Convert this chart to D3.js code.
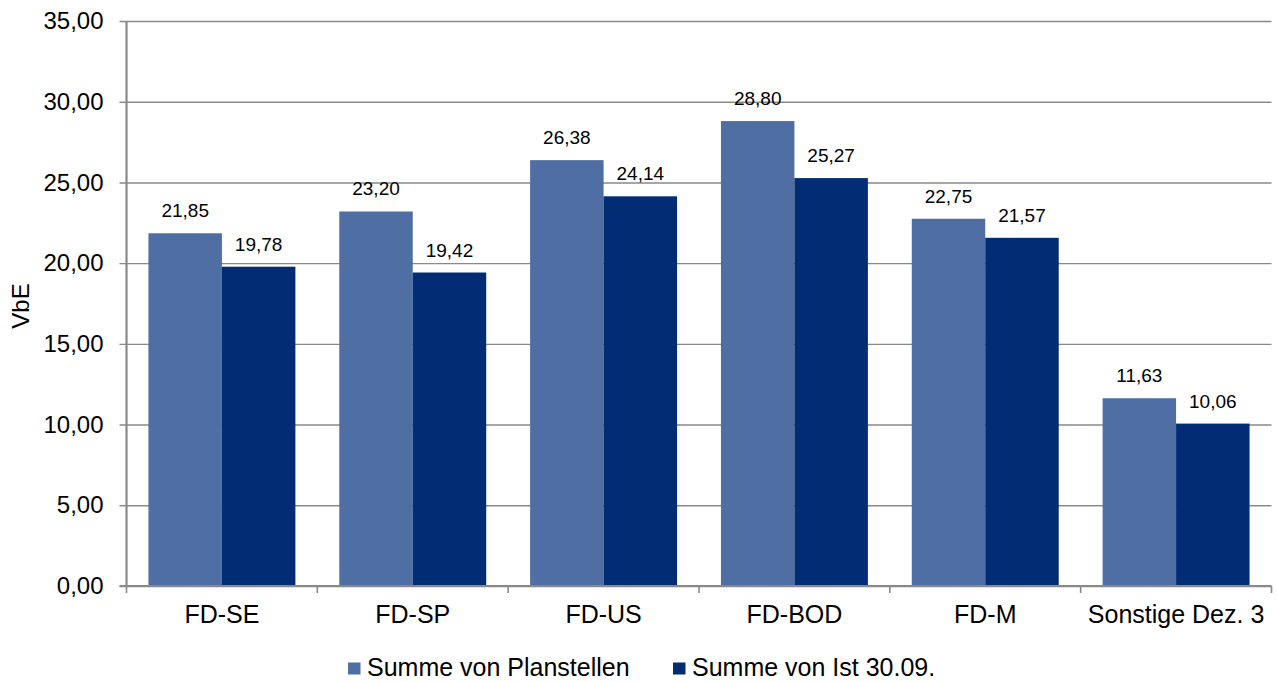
<!DOCTYPE html>
<html>
<head>
<meta charset="utf-8">
<script src="https://cdn.jsdelivr.net/npm/d3@7"></script>
<style>
  html, body { margin: 0; padding: 0; background: #fff; }
  svg { display: block; font-family: "Liberation Sans", Arial, sans-serif; }
</style>
</head>
<body>
<svg id="chart" width="1278" height="682"></svg>
<script>
// Categories and series values
const categories = ["FD-SE", "FD-SP", "FD-US", "FD-BOD", "FD-M", "Sonstige Dez. 3"];
const planstellen = [21.85, 23.20, 26.38, 28.80, 22.75, 11.63];
const ist3009 = [19.78, 19.42, 24.14, 25.27, 21.57, 10.06];
const seriesNames = ["Summe von Planstellen", "Summe von Ist 30.09."];
const seriesColors = ["#4F6EA4", "#022C74"];
const yTicks = [0, 5, 10, 15, 20, 25, 30, 35];
const yTitle = "VbE";

const svg = d3.select("#chart");
const margin = { left: 126.5, right: 6.5, top: 21, bottom: 96 };
const width = 1278, height = 682;
const plotW = width - margin.left - margin.right;
const plotH = height - margin.top - margin.bottom;

const fmt = v => d3.format(".2f")(v).replace(".", ",");

const x0 = d3.scaleBand().domain(categories).range([0, plotW])
  .paddingInner(0.23).paddingOuter(0.115);
const x1 = d3.scaleBand().domain(seriesNames).range([0, x0.bandwidth()]);
const y = d3.scaleLinear().domain([0, 35]).range([plotH, 0]);

const g = svg.append("g").attr("transform", `translate(${margin.left},${margin.top})`);

// Horizontal gridlines with left tick marks
const yAxis = g.append("g")
  .call(d3.axisLeft(y).tickValues(yTicks).tickFormat(fmt).tickSize(-plotW).tickPadding(23));
yAxis.select(".domain").remove();
yAxis.selectAll(".tick line")
  .attr("x1", -7).attr("stroke", "#898989").attr("stroke-width", 1.4);
yAxis.selectAll(".tick text")
  .attr("font-size", 24).attr("fill", "#000")
  .style("font-family", "'Liberation Sans', Arial, sans-serif");

// Bars
const rows = categories.map((c, i) => ({ cat: c, vals: [planstellen[i], ist3009[i]] }));
const groups = g.selectAll(".grp").data(rows).enter().append("g")
  .attr("transform", d => `translate(${x0(d.cat)},0)`);

groups.selectAll("rect").data(d => d.vals.map((v, k) => ({ v, s: seriesNames[k], k })))
  .enter().append("rect")
  .attr("x", d => x1(d.s))
  .attr("y", d => y(d.v))
  .attr("width", x1.bandwidth())
  .attr("height", d => y(0) - y(d.v))
  .attr("fill", d => seriesColors[d.k]);

groups.selectAll("text.val").data(d => d.vals.map((v, k) => ({ v, s: seriesNames[k] })))
  .enter().append("text")
  .attr("class", "val")
  .attr("x", d => x1(d.s) + x1.bandwidth() / 2)
  .attr("y", d => y(d.v) - 16)
  .attr("text-anchor", "middle")
  .attr("font-size", 19)
  .attr("fill", "#000")
  .text(d => fmt(d.v));

// Vertical axis line
g.append("line")
  .attr("x1", 0).attr("x2", 0).attr("y1", 0).attr("y2", plotH)
  .attr("stroke", "#898989").attr("stroke-width", 2.2);

// Category axis with ticks at group boundaries
const bounds = d3.range(categories.length + 1).map(i => i * x0.step());
g.append("line")
  .attr("x1", -7).attr("x2", plotW).attr("y1", plotH).attr("y2", plotH)
  .attr("stroke", "#898989").attr("stroke-width", 2.2);
g.selectAll(".bt").data(bounds).enter().append("line")
  .attr("x1", d => d).attr("x2", d => d)
  .attr("y1", plotH).attr("y2", plotH + 7)
  .attr("stroke", "#898989").attr("stroke-width", 1.6);
g.selectAll(".cl").data(categories).enter().append("text")
  .attr("x", d => x0(d) + x0.bandwidth() / 2)
  .attr("y", plotH + 37)
  .attr("text-anchor", "middle")
  .attr("font-size", 25)
  .attr("fill", "#000")
  .text(d => d);

// Y axis title
svg.append("text")
  .attr("transform", "translate(29,306) rotate(-90)")
  .attr("text-anchor", "middle")
  .attr("font-size", 24)
  .attr("fill", "#000")
  .text(yTitle);

// Legend
const legendX = [348, 673];
const leg = svg.selectAll(".leg").data(seriesNames).enter().append("g")
  .attr("transform", (d, i) => `translate(${legendX[i]},662.5)`);
leg.append("rect").attr("width", 12.5).attr("height", 12)
  .attr("fill", (d, i) => seriesColors[i]);
leg.append("text").attr("x", 19).attr("y", 13.5)
  .attr("font-size", 25).attr("fill", "#000")
  .text(d => d);
</script>
</body>
</html>
